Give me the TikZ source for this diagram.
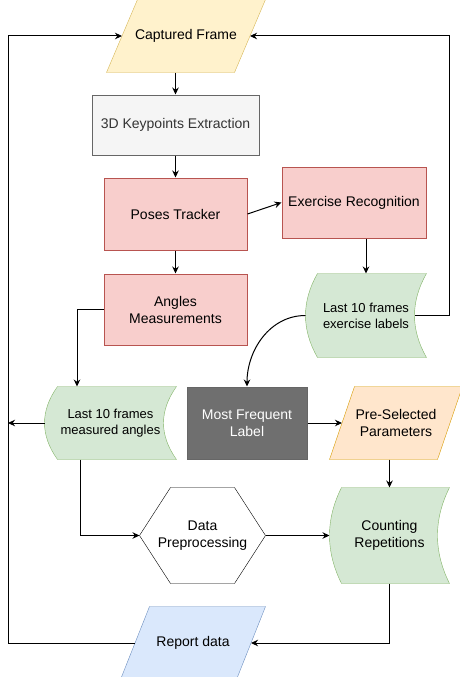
\documentclass[tikz,border=0pt]{standalone}
\usepackage{fontspec}
\setmainfont{Liberation Sans}
\usetikzlibrary{arrows.meta,backgrounds,calc}

\definecolor{yelFill}{HTML}{FFF2CC}
\definecolor{yelLine}{HTML}{D6B656}
\definecolor{greyFill}{HTML}{F5F5F5}
\definecolor{greyLine}{HTML}{666666}
\definecolor{greyText}{HTML}{333333}
\definecolor{redFill}{HTML}{F8CECC}
\definecolor{redLine}{HTML}{B85450}
\definecolor{grnFill}{HTML}{D5E8D4}
\definecolor{grnLine}{HTML}{82B366}
\definecolor{orgFill}{HTML}{FFE6CC}
\definecolor{orgLine}{HTML}{D79B00}
\definecolor{bluFill}{HTML}{DAE8FC}
\definecolor{bluLine}{HTML}{6C8EBF}
\definecolor{darkFill}{HTML}{6F6F6F}

\tikzset{
  txt/.style={align=center, inner sep=0pt, font=\fontsize{14}{17}\selectfont},
  smalltxt/.style={align=center, inner sep=0pt, font=\fontsize{13}{16}\selectfont},
  greybox/.style={txt, draw=greyLine, fill=greyFill, text=greyText},
  redbox/.style={txt, draw=redLine, fill=redFill},
  darkbox/.style={txt, draw=greyLine, fill=darkFill, text=white},
  link/.style={->, line width=1pt},
}

% outlines drawn behind the named nodes
\newcommand{\paragram}[3]{%
  \path[#3] ([xshift=#2]#1.north west) -- (#1.north east)
    -- ([xshift=-#2]#1.south east) -- (#1.south west) -- cycle;}
\newcommand{\storedata}[3]{%
  \path[#3] ([xshift=#2]#1.north west) -- (#1.north east)
    .. controls ($(#1.north east)!1/3!(#1.south east)+(-4/3*#2,0)$)
       and ($(#1.north east)!2/3!(#1.south east)+(-4/3*#2,0)$) .. (#1.south east)
    -- ([xshift=#2]#1.south west)
    .. controls ($(#1.south west)!1/3!(#1.north west)+(-1/3*#2,0)$)
       and ($(#1.south west)!2/3!(#1.north west)+(-1/3*#2,0)$) .. ([xshift=#2]#1.north west)
    -- cycle;}
\newcommand{\hexa}[3]{%
  \path[#3] ([xshift=#2]#1.north west) -- ([xshift=-#2]#1.north east) -- (#1.east)
    -- ([xshift=-#2]#1.south east) -- ([xshift=#2]#1.south west) -- (#1.west) -- cycle;}

\begin{document}
\begin{tikzpicture}[x=1pt, y=-1pt, >={Stealth[length=7pt,width=6.5pt]}, line width=1pt]

\useasboundingbox (0,0) rectangle (460,677);

% Input and keypoints
\node[txt, minimum width=158, minimum height=72] (captured) at (186,36) {Captured Frame};
\node[greybox, minimum width=167, minimum height=60] (keys) at (175.5,125) {3D Keypoints Extraction};

% Tracking and recognition
\node[redbox, minimum width=143, minimum height=72] (poses) at (175.5,214) {Poses Tracker};
\node[redbox, minimum width=144, minimum height=71] (recog) at (354,202.5) {Exercise Recognition};
\node[redbox, minimum width=143, minimum height=71] (angles) at (175.5,309.5) {Angles\\Measurements};
\node[smalltxt, minimum width=120, minimum height=83] (labels) at (366,315.5) {Last 10 frames\\exercise labels};

% Middle row
\node[smalltxt, minimum width=131, minimum height=72] (angles10) at (110.5,423) {Last 10 frames\\measured angles};
\node[darkbox, minimum width=120, minimum height=72] (freq) at (247,423) {Most Frequent\\Label};
\node[txt, minimum width=132, minimum height=72] (pre) at (396,423) {Pre-Selected\\Parameters};

% Counting and report
\node[txt, minimum width=125, minimum height=95] (prep) at (202.5,535.5) {Data\\Preprocessing};
\node[txt, minimum width=119, minimum height=95] (count) at (389.5,535.5) {Counting\\Repetitions};
\node[txt, minimum width=144, minimum height=72] (report) at (193,643) {Report data};

% Rails of the two loops
\coordinate (leftrail) at (8,36);
\coordinate (rightrail) at (449,36);

\begin{scope}[on background layer]
  \paragram{captured}{31}{draw=yelLine, fill=yelFill}
  \paragram{pre}{25}{draw=orgLine, fill=orgFill}
  \paragram{report}{29}{draw=bluLine, fill=bluFill}
  \storedata{labels}{12}{draw=grnLine, fill=grnFill}
  \storedata{angles10}{13}{draw=grnLine, fill=grnFill}
  \storedata{count}{12}{draw=grnLine, fill=grnFill}
  \hexa{prep}{31}{draw=black, fill=white}
\end{scope}

% Main chain
\draw[link] (captured.south -| keys.north) -- (keys.north);
\draw[link] (keys.south) -- (poses.north);
\draw[link] (poses.east) -- (recog.west);
\draw[link] (poses.south) -- (angles.north);
\draw[link] (recog.south -| labels.north) -- (labels.north);
\draw[link] (labels.west) to[out=180,in=90] (freq.north);
\draw[link] (freq.east) -- ([xshift=12.5]pre.west);
\draw[link] (count.north |- pre.south) -- (count.north);

% Angles branch
\draw[link] (angles.west) -| ([xshift=-33.5]angles10.north);
\draw[link] (angles10.west) -- (angles10.west -| leftrail);
\draw[link] ([xshift=-30.5]angles10.south) |- (prep.west);
\draw[link] (prep.east) -- (count.west);
\draw[link] (count.south) |- ([xshift=-14.5]report.east);

% Loops back to the frame
\draw[link] ([xshift=-12]labels.east) -| (rightrail) -- ([xshift=-15.5]captured.east);
\draw[link] ([xshift=14.5]report.west) -| (leftrail) -- ([xshift=15.5]captured.west);

\end{tikzpicture}
\end{document}
